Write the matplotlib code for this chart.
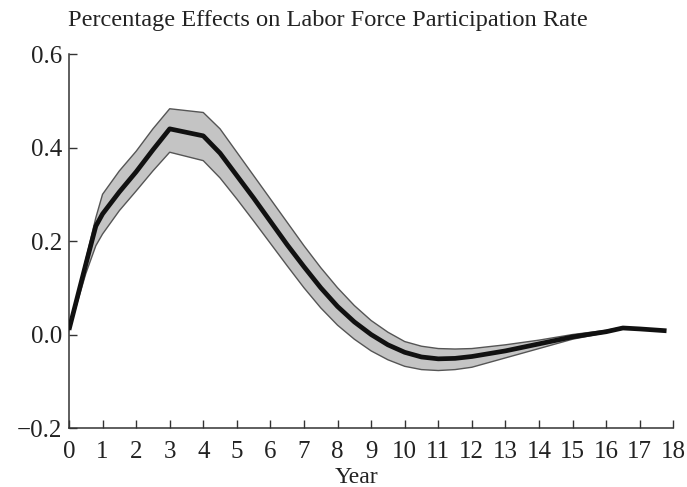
import matplotlib
matplotlib.use("Agg")
import matplotlib.pyplot as plt
import numpy as np

plt.rcParams['font.family'] = ['Liberation Serif', 'DejaVu Serif']

# Data
years = [0, 0.5, 0.8, 1, 1.5, 2, 2.5, 3, 4, 4.5, 5, 5.5, 6, 6.5, 7, 7.5, 8, 8.5, 9, 9.5, 10, 10.5,
         11, 11.5, 12, 13, 14, 15, 16, 16.5, 17, 17.8]
center = [0.01, 0.15, 0.232, 0.258, 0.305, 0.348, 0.395, 0.44, 0.425, 0.388, 0.34, 0.292, 0.242,
          0.192, 0.145, 0.100, 0.060, 0.027, 0.0, -0.022, -0.038, -0.048, -0.052, -0.051, -0.047,
          -0.035, -0.02, -0.005, 0.006, 0.014, 0.012, 0.008]

band_years = [0, 0.5, 0.8, 1, 1.5, 2, 2.5, 3, 4, 4.5, 5, 5.5, 6, 6.5, 7, 7.5, 8, 8.5, 9, 9.5, 10,
              10.5, 11, 11.5, 12, 13, 14, 15, 16, 16.5]
upper = [0.012, 0.16, 0.25, 0.30, 0.35, 0.392, 0.44, 0.483, 0.475, 0.44, 0.39, 0.34, 0.29, 0.24,
         0.19, 0.143, 0.10, 0.062, 0.03, 0.005, -0.015, -0.025, -0.03, -0.031, -0.03, -0.022,
         -0.012, 0.0, 0.009, 0.016]
lower = [0.008, 0.13, 0.19, 0.215, 0.265, 0.307, 0.35, 0.39, 0.372, 0.335, 0.29, 0.243, 0.195,
         0.147, 0.10, 0.057, 0.02, -0.01, -0.035, -0.054, -0.068, -0.075, -0.077, -0.075, -0.07,
         -0.05, -0.03, -0.01, 0.004, 0.013]

xticks = list(range(0, 19))
yticks = [-0.2, 0.0, 0.2, 0.4, 0.6]
ytick_labels = ["\u22120.2", "0.0", "0.2", "0.4", "0.6"]
title = "Percentage Effects on Labor Force Participation Rate"

fig = plt.figure(figsize=(6.87, 4.87), dpi=100)
ax = fig.add_axes([0.1004, 0.1211, 0.8796, 0.7679])

ax.fill_between(band_years, lower, upper, facecolor="#c4c4c4", edgecolor="none", zorder=1)
ax.plot(band_years, upper, color="#555555", lw=1.0, zorder=2)
ax.plot(band_years, lower, color="#555555", lw=1.0, zorder=2)
ax.plot(years, center, color="#111111", lw=3.4, solid_capstyle="butt", solid_joinstyle="round", zorder=3)

ax.set_xlim(0, 18)
ax.set_ylim(-0.2, 0.6)
ax.set_xticks(xticks)
ax.set_xticklabels([str(t) for t in xticks])
ax.set_yticks(yticks)
ax.set_yticklabels(ytick_labels)

for s in ["top", "right"]:
    ax.spines[s].set_visible(False)
for s in ["left", "bottom"]:
    ax.spines[s].set_linewidth(1.1)
    ax.spines[s].set_color("#333333")

ax.tick_params(axis="both", direction="in", length=6, width=1.0, color="#333333",
               labelsize=18, labelcolor="#222222")
ax.tick_params(axis="x", pad=9)
ax.tick_params(axis="y", pad=5)

ax.set_xlabel("Year", fontsize=17, color="#222222")
ax.xaxis.set_label_coords(0.475, -0.105)

fig.text(0.099, 0.957, title, fontsize=17.6, color="#222222", ha="left", va="center")

fig.savefig("out.png", dpi=100)
